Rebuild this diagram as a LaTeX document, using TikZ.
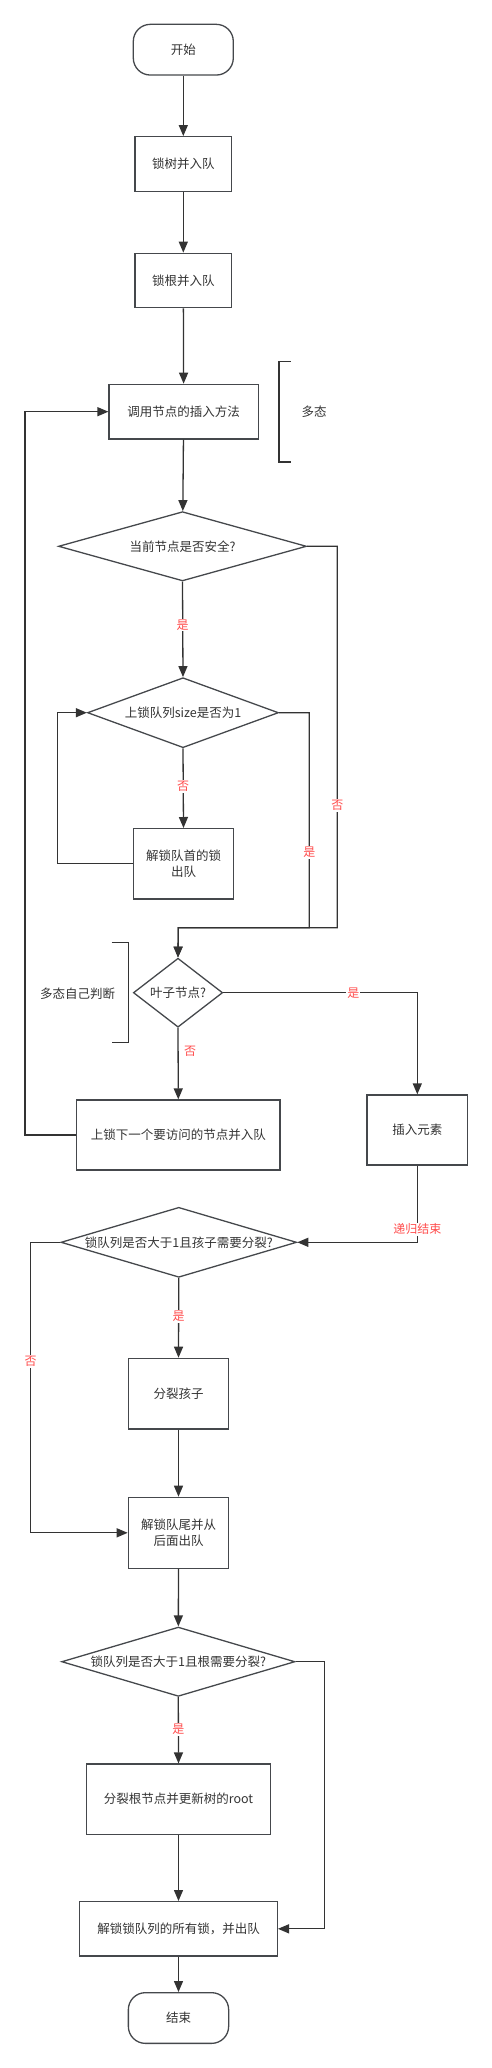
\documentclass[tikz,border=0pt]{standalone}
\usepackage{fontspec}
\setmainfont{Noto Sans CJK SC}
\usetikzlibrary{arrows.meta,shapes.geometric}
\definecolor{linec}{HTML}{333333}
\definecolor{boxc}{HTML}{45484C}
\definecolor{txtc}{HTML}{333333}
\definecolor{redc}{HTML}{FF4D4D}
\begin{document}
\begin{tikzpicture}[x=1pt,y=-1pt,
  every node/.style={font=\fontsize{12.5pt}{15.5pt}\selectfont, text=txtc},
  procbox/.style={draw=boxc, line width=1.3pt, rectangle, inner sep=0pt, align=center},
  termbox/.style={draw=boxc, line width=1.3pt, rectangle, rounded corners=17pt, inner sep=0pt},
  decbox/.style={draw=boxc, line width=1.3pt, diamond, inner sep=0pt, aspect=1},
  conn/.style={draw=linec, line width=1.3pt, -{Triangle[length=11pt,width=9pt]}},
  plain/.style={draw=linec, line width=1.3pt},
  lbl/.style={fill=white, text=redc, inner sep=1pt, font=\fontsize{12pt}{14pt}\selectfont},
  note/.style={inner sep=0pt}
]
\useasboundingbox (0,0) rectangle (492,2068);

% nodes
\node[termbox, minimum width=100pt, minimum height=50.7pt] (start) at (183.3,49.7) {开始};
\node[procbox, minimum width=96.7pt, minimum height=55pt] (n1) at (183.3,164.2) {锁树并入队};
\node[procbox, minimum width=96.7pt, minimum height=54.4pt] (n2) at (183.3,280.5) {锁根并入队};
\node[procbox, minimum width=149.3pt, minimum height=54.7pt] (n3) at (183.7,411.7) {调用节点的插入方法};
\node[decbox, minimum width=248pt, minimum height=69.3pt, label={center:当前节点是否安全?}] (d1) at (182.5,546.3) {};
\node[decbox, minimum width=191pt, minimum height=70pt, label={center:上锁队列size是否为1}] (d2) at (183,712.7) {};
\node[procbox, minimum width=100.3pt, minimum height=70.3pt] (n4) at (183.5,863.8) {解锁队首的锁\\出队};
\node[decbox, minimum width=89.3pt, minimum height=69pt, label={center:叶子节点?}] (d3) at (178,992.7) {};
\node[procbox, minimum width=203.3pt, minimum height=70pt] (n5) at (178.3,1135) {上锁下一个要访问的节点并入队};
\node[procbox, minimum width=100.7pt, minimum height=70pt] (n6) at (417.3,1130) {插入元素};
\node[decbox, minimum width=235.7pt, minimum height=70pt, label={center:锁队列是否大于1且孩子需要分裂?}] (d4) at (178.8,1242.3) {};
\node[procbox, minimum width=100.3pt, minimum height=70.7pt] (n7) at (178.5,1393.7) {分裂孩子};
\node[procbox, minimum width=100.3pt, minimum height=71pt] (n8) at (178.5,1532.8) {解锁队尾并从\\后面出队};
\node[decbox, minimum width=233.3pt, minimum height=69.3pt, label={center:锁队列是否大于1且根需要分裂?}] (d5) at (178.3,1661.7) {};
\node[procbox, minimum width=184.3pt, minimum height=70.3pt] (n9) at (178.5,1799.2) {分裂根节点并更新树的root};
\node[procbox, minimum width=197.7pt, minimum height=54.3pt] (n10) at (178.5,1928.8) {解锁锁队列的所有锁，并出队};
\node[termbox, minimum width=100.3pt, minimum height=50.7pt] (end) at (178.5,2018) {结束};

% annotation brackets
\node[note] (poly) at (314,411.7) {多态};
\draw[plain] (290.7,361.7) -- (279,361.7) -- (279,462) -- (290.7,462);
\node[note] (polyself) at (77.5,993.3) {多态自己判断};
\draw[plain] (111.7,942.7) -- (128.3,942.7) -- (128.3,1042.7) -- (111.7,1042.7);

% helper coordinates
\coordinate (j1) at (337.3,546.3);
\coordinate (j2) at (337.3,927.7);
\coordinate (j3) at (178.3,927.7);
\coordinate (j4) at (309.3,712.7);
\coordinate (j5) at (309.3,927.7);
\coordinate (l1) at (57.7,863.8);
\coordinate (l2) at (57.7,712.7);
\coordinate (r1) at (417.3,992.7);
\coordinate (b1) at (25,1135);
\coordinate (b2) at (25,411.7);
\coordinate (r2) at (417.3,1242.3);
\coordinate (f1) at (30.7,1242.3);
\coordinate (f2) at (30.7,1532.8);
\coordinate (g1) at (324.3,1661.7);
\coordinate (g2) at (324.3,1928.8);

% connectors
\draw[conn] (start) -- (n1);
\draw[conn] (n1) -- (n2);
\draw[conn] (n2) -- (n3);
\draw[conn] (n3) -- (d1);
\draw[conn] (d1.south) -- (d2.north) node[lbl, pos=0.455] {是};
\draw[conn] (d1.east) -- (j1) -- (j2) node[lbl, pos=0.68] {否} -- (j3) -- (d3.north);
\draw[conn] (d2.east) -- (j4) -- (j5) node[lbl, pos=0.65] {是} -- (j3) -- (d3.north);
\draw[conn] (d2.south) -- (n4.north) node[lbl, pos=0.48] {否};
\draw[conn] (n4.west) -- (l1) -- (l2) -- (d2.west);
\draw[conn] (d3.south) -- (n5.north) node[lbl, pos=0.33, xshift=12pt, fill=none] {否};
\draw[conn] (d3.east) -- (r1) node[lbl, pos=0.67] {是} -- (n6.north);
\draw[conn] (n5.west) -- (b1) -- (b2) -- (n3.west);
\draw[conn] (n6.south) -- (r2) node[lbl, pos=0.83] {递归结束} -- (d4.east);
\draw[conn] (d4.south) -- (n7.north) node[lbl, pos=0.48] {是};
\draw[conn] (d4.west) -- (f1) -- (f2) node[lbl, pos=0.41] {否} -- (n8.west);
\draw[conn] (n7) -- (n8);
\draw[conn] (n8) -- (d5);
\draw[conn] (d5.south) -- (n9.north) node[lbl, pos=0.49] {是};
\draw[conn] (d5.east) -- (g1) -- (g2) -- (n10.east);
\draw[conn] (n9) -- (n10);
\draw[conn] (n10) -- (end);
\end{tikzpicture}
\end{document}
